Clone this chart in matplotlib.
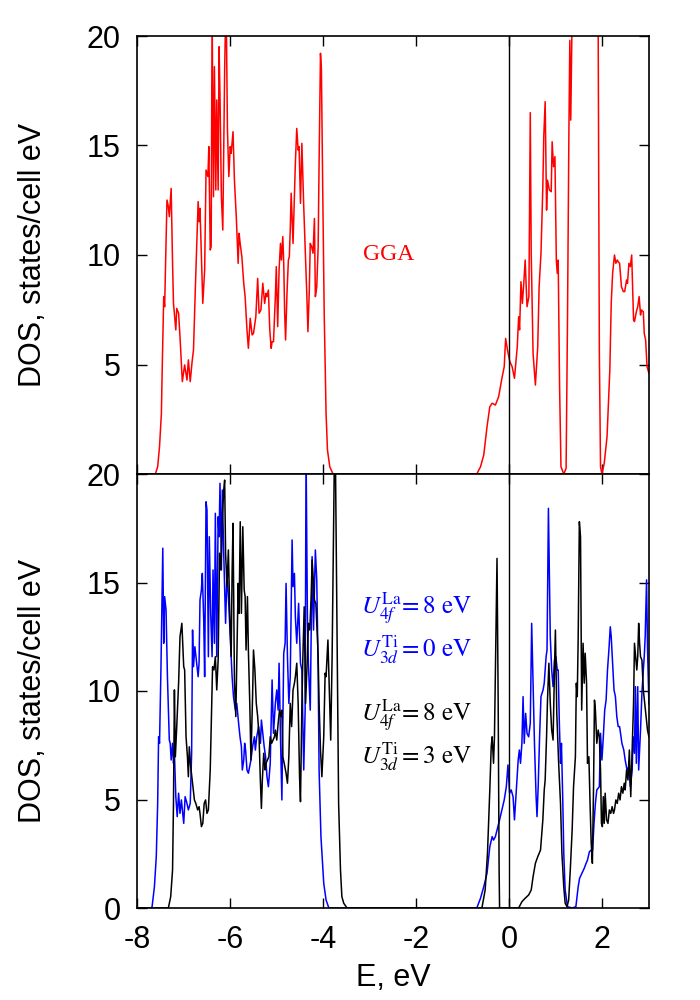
import matplotlib
matplotlib.use("Agg")
import matplotlib.pyplot as plt

plt.rcParams['font.family'] = ['Liberation Sans', 'DejaVu Sans']
plt.rcParams['mathtext.fontset'] = 'stix'
plt.rcParams['axes.unicode_minus'] = False

# GGA (top panel, red)
gga_e = [-8.0, -7.61, -7.56, -7.52, -7.48, -7.46, -7.43, -7.41, -7.36, -7.33, -7.31, -7.27, -7.24,
         -7.22, -7.17, -7.15, -7.11, -7.08, -7.03, -6.98, -6.93, -6.90, -6.86, -6.82, -6.79, -6.74,
         -6.69, -6.67, -6.65, -6.59, -6.55, -6.52, -6.48, -6.46, -6.43, -6.41, -6.39, -6.36, -6.34,
         -6.31, -6.29, -6.26, -6.24, -6.22, -6.19, -6.16, -6.12, -6.09, -6.06, -6.03, -6.00, -5.98,
         -5.94, -5.91, -5.87, -5.83, -5.81, -5.785, -5.75, -5.71, -5.68, -5.64, -5.61, -5.57, -5.53,
         -5.50, -5.45, -5.41, -5.38, -5.34, -5.30, -5.26, -5.23, -5.21, -5.18, -5.15, -5.12, -5.10,
         -5.07, -5.03, -5.01, -4.98, -4.95, -4.92, -4.90, -4.87, -4.85, -4.83, -4.81, -4.78, -4.75,
         -4.73, -4.71, -4.69, -4.65, -4.62, -4.60, -4.57, -4.54, -4.52, -4.49, -4.46, -4.42, -4.39,
         -4.35, -4.33, -4.30, -4.28, -4.25, -4.22, -4.19, -4.17, -4.14, -4.11, -4.09, -4.06, -4.04,
         -4.01, -3.98, -3.94, -3.91, -3.86, -3.79,
         -0.70, -0.62, -0.55, -0.48, -0.42, -0.37, -0.30, -0.23, -0.16, -0.11, -0.08, -0.04, 0.01,
         0.06, 0.11, 0.17, 0.20, 0.22, 0.25, 0.28, 0.31, 0.34, 0.38, 0.42, 0.45, 0.47, 0.51, 0.56,
         0.61, 0.64, 0.68, 0.72, 0.74, 0.77, 0.80, 0.82, 0.86, 0.90, 0.92, 0.95, 0.98, 1.01, 1.03,
         1.05, 1.08, 1.11, 1.17, 1.22, 1.25, 1.28, 1.30, 1.32, 1.35, 1.45, 1.80, 1.91, 1.935, 1.96,
         1.99, 2.04, 2.10, 2.16, 2.19, 2.22, 2.26, 2.29, 2.32, 2.34, 2.37, 2.41, 2.45, 2.48, 2.52,
         2.54, 2.57, 2.60, 2.63, 2.67, 2.69, 2.73, 2.76, 2.79, 2.82, 2.84, 2.88, 2.90, 2.93, 2.96, 3.0]
gga_dos = [0, 0, 0.33, 1.25, 2.77, 5.05, 8.10, 7.64, 12.51, 12.21, 11.75, 13.04, 9.62,
           7.79, 6.58, 7.56, 7.34, 6.27, 4.22, 4.98, 4.29, 5.21, 4.22, 5.13, 5.66, 9.16,
           12.44, 11.52, 12.13, 7.79, 9.32, 13.88, 13.58, 14.95, 10.23, 10.38, 21.0, 12.66, 18.6,
           12.97, 17.08, 12.97, 19.51, 17.23, 12.66, 11.14, 18.45, 22.0, 15.71, 13.58, 14.95, 14.64,
           15.63, 13.42, 11.75, 9.62, 10.99, 10.5, 9.92, 8.71, 8.10, 6.58, 5.74, 7.11, 6.35,
           6.42, 7.18, 8.93, 7.34, 7.49, 8.71, 7.79, 8.25, 8.10, 8.40, 6.58, 5.74, 6.04,
           6.04, 8.10, 9.47, 6.73, 9.32, 10.53, 9.77, 10.84, 9.62, 7.34, 6.12, 8.25, 9.77,
           9.92, 11.14, 12.82, 10.53, 12.66, 14.19, 15.78, 14.79, 14.95, 12.36, 15.10, 12.21, 10.38,
           7.95, 6.50, 8.40, 10.53, 10.38, 10.08, 11.67, 8.10, 8.55, 10.38, 14.19, 19.21, 18.45,
           12.66, 7.34, 2.77, 1.10, 0.33, 0,
           0, 0.33, 0.87, 2.16, 3.07, 3.23, 3.15, 3.53, 4.37, 4.90, 6.19, 5.66, 5.13,
           4.90, 4.37, 5.81, 7.18, 6.58, 8.78, 7.79, 8.71, 9.77, 7.64, 8.10, 16.5, 10.08, 5.51, 4.06,
           5.81, 8.55, 10.08, 13.12, 15.40, 17.0, 12.05, 13.42, 12.97, 12.89, 15.17, 14.03, 14.49, 9.77, 9.16,
           9.77, 3.99, 0.33, 0, 0.26, 7.03, 15.56, 19.8, 16.16, 21.0, 30.0, 30.0, 20.1, 5.5, 0.33,
           0, 0.49, 1.70, 4.75, 7.79, 9.16, 10.0, 9.62, 9.77, 9.69, 9.62, 8.55, 8.33, 8.33, 8.86,
           8.71, 9.62, 9.47, 10.0, 7.03, 6.96, 7.41, 7.64, 8.10, 7.26, 7.49, 7.41, 6.42, 6.12, 4.90, 4.6]

# U(La 4f) = 8 eV, U(Ti 3d) = 0 eV (bottom panel, blue)
u0_e = [-8.0, -7.70, -7.68, -7.63, -7.59, -7.56, -7.54, -7.52, -7.49, -7.45, -7.43, -7.41, -7.38, -7.35,
        -7.31, -7.29, -7.27, -7.24, -7.22, -7.20, -7.17, -7.14, -7.11, -7.08, -7.05, -7.02, -7.00,
        -6.97, -6.93, -6.90, -6.86, -6.83, -6.81, -6.79, -6.76, -6.73, -6.69, -6.67, -6.65, -6.62,
        -6.60, -6.57, -6.55, -6.52, -6.50, -6.47, -6.45, -6.42, -6.39, -6.37, -6.34, -6.32, -6.29,
        -6.26, -6.24, -6.22, -6.19, -6.17, -6.14, -6.10, -6.07, -6.04, -6.00, -5.96, -5.93, -5.89,
        -5.86, -5.82, -5.79, -5.76, -5.74, -5.71, -5.69, -5.67, -5.64, -5.61, -5.555, -5.52, -5.48,
        -5.46, -5.43, -5.39, -5.35, -5.33, -5.30, -5.27, -5.24, -5.21, -5.18, -5.14, -5.10, -5.07,
        -5.03, -5.00, -4.97, -4.95, -4.92, -4.89, -4.85, -4.82, -4.80, -4.77, -4.74, -4.71, -4.67,
        -4.65, -4.62, -4.60, -4.57, -4.53, -4.49, -4.46, -4.42, -4.39, -4.37, -4.34, -4.32, -4.28,
        -4.24, -4.21, -4.17, -4.14, -4.11, -4.09, -4.05, -3.99, -3.94, -3.88,
        -0.70, -0.62, -0.55, -0.48, -0.42, -0.37, -0.34, -0.30, -0.265, -0.21, -0.16, -0.11, -0.065,
        -0.03, 0.005, 0.04, 0.08, 0.11, 0.15, 0.19, 0.215, 0.24, 0.27, 0.295, 0.32, 0.35, 0.38,
        0.415, 0.45, 0.48, 0.51, 0.54, 0.575, 0.595, 0.62, 0.65, 0.68, 0.725, 0.75, 0.79, 0.81,
        0.84, 0.86, 0.88, 0.91, 0.94, 0.97, 1.00, 1.03, 1.05, 1.075, 1.10, 1.12, 1.15, 1.17, 1.20,
        1.25, 1.35, 1.43, 1.48, 1.51, 1.56, 1.61, 1.65, 1.68, 1.72, 1.76, 1.79, 1.82, 1.85, 1.88,
        1.91, 1.935, 1.96, 1.99, 2.02, 2.05, 2.08, 2.11, 2.14, 2.17, 2.19, 2.22, 2.25, 2.28, 2.31,
        2.34, 2.37, 2.39, 2.42, 2.46, 2.49, 2.53, 2.57, 2.60, 2.64, 2.66, 2.69, 2.71, 2.73, 2.76,
        2.78, 2.82, 2.85, 2.88, 2.90, 2.92, 2.95, 2.97, 3.0]
u0_dos = [0, 0, 0.06, 0.98, 2.36, 4.82, 7.89, 7.59, 10.97, 16.58, 12.20, 14.35, 13.73, 10.66,
          7.74, 7.59, 6.82, 7.59, 6.67, 7.13, 5.13, 4.21, 5.29, 4.36, 4.98, 4.36, 3.90,
          5.13, 4.82, 4.52, 4.82, 7.13, 12.81, 11.12, 12.04, 11.43, 10.66, 11.28, 14.19, 14.65,
          15.42, 13.27, 10.66, 18.72, 18.34, 11.58, 17.11, 13.58, 11.58, 15.58, 12.20, 18.19, 11.58,
          18.03, 17.11, 19.57, 15.58, 19.26, 16.35, 13.12, 15.42, 14.35, 12.50, 10.66, 9.74, 9.12,
          9.43, 8.51, 7.89, 7.43, 6.36, 6.82, 7.59, 7.28, 6.36, 6.21, 6.82, 7.43, 7.89,
          7.28, 7.89, 8.36, 7.59, 8.66, 8.05, 7.43, 6.97, 6.05, 5.59, 6.67, 10.51, 8.05,
          9.43, 10.05, 9.12, 11.28, 7.89, 4.98, 11.74, 12.20, 14.96, 11.58, 9.43, 10.66, 16.96,
          14.81, 15.42, 13.42, 12.20, 14.04, 11.28, 10.97, 6.36, 9.12, 21.0, 13.12, 11.28, 9.12,
          16.19, 12.81, 16.50, 15.12, 10.97, 6.36, 3.29, 1.14, 0.37, 0,
          0, 0.45, 0.98, 1.60, 2.82, 3.29, 3.13, 3.29, 3.59, 4.06, 4.52, 4.98, 5.59,
          6.59, 5.29, 5.44, 5.13, 4.06, 5.44, 6.82, 7.28, 6.67, 7.59, 9.74, 7.59, 8.97, 8.05,
          7.89, 8.51, 13.12, 10.36, 7.59, 5.13, 4.21, 5.59, 7.89, 9.74, 10.05, 10.36, 11.58, 11.89,
          18.42, 15.58, 12.50, 10.97, 10.20, 11.43, 11.58, 10.97, 10.97, 8.51, 6.67, 7.59, 4.82, 2.52, 0.83,
          0.06, 0, 0.06, 0.98, 1.37, 1.60, 1.83, 2.06, 2.21, 2.59, 2.67, 2.67, 3.90, 4.82, 5.44,
          5.52, 5.59, 8.05, 6.82, 7.89, 9.12, 9.58, 10.97, 11.89, 12.96, 12.50, 11.28, 10.05, 9.74, 8.82,
          8.36, 8.36, 8.05, 7.59, 7.28, 6.82, 6.36, 6.51, 5.59, 6.36, 7.89, 7.13, 10.20, 6.67, 10.20,
          6.36, 8.20, 9.89, 10.97, 11.58, 12.50, 15.12, 12.0, 9.4]

# U(La 4f) = 8 eV, U(Ti 3d) = 3 eV (bottom panel, black)
u3_e = [-8.0, -7.33, -7.28, -7.24, -7.22, -7.20, -7.18, -7.15, -7.11, -7.08, -7.04, -7.00, -6.98,
        -6.95, -6.92, -6.90, -6.88, -6.85, -6.81, -6.77, -6.74, -6.70, -6.67, -6.65, -6.62, -6.59,
        -6.56, -6.53, -6.50, -6.47, -6.43, -6.40, -6.38, -6.35, -6.32, -6.29, -6.26, -6.23, -6.20,
        -6.17, -6.14, -6.12, -6.10, -6.07, -6.04, -6.01, -5.98, -5.96, -5.94, -5.91, -5.88, -5.86,
        -5.83, -5.81, -5.785, -5.76, -5.73, -5.70, -5.68, -5.66, -5.63, -5.61, -5.58, -5.555, -5.52,
        -5.50, -5.47, -5.44, -5.41, -5.38, -5.355, -5.33, -5.31, -5.28, -5.25, -5.23, -5.20, -5.17,
        -5.14, -5.11, -5.08, -5.05, -5.03, -5.00, -4.97, -4.94, -4.91, -4.89, -4.87, -4.84, -4.80,
        -4.77, -4.74, -4.71, -4.68, -4.65, -4.62, -4.60, -4.57, -4.54, -4.51, -4.49, -4.46, -4.44,
        -4.41, -4.38, -4.35, -4.32, -4.29, -4.26, -4.24, -4.215, -4.19, -4.16, -4.13, -4.11, -4.09,
        -4.06, -4.03, -3.99, -3.96, -3.94, -3.90, -3.87, -3.84, -3.81, -3.78, -3.76, -3.74, -3.71,
        -3.67, -3.63, -3.60, -3.56, -3.49,
        -0.59, -0.52, -0.47, -0.42, -0.39, -0.37, -0.34, -0.32, -0.29, -0.265, -0.24, -0.22, -0.21,
        0.20, 0.27, 0.34, 0.415, 0.47, 0.51, 0.56, 0.61, 0.67, 0.72, 0.75, 0.77, 0.80, 0.82, 0.85,
        0.88, 0.91, 0.94, 0.97, 0.99, 1.02, 1.06, 1.10, 1.13, 1.17, 1.20, 1.24, 1.275, 1.31, 1.35,
        1.38, 1.42, 1.44, 1.46, 1.48, 1.505, 1.53, 1.555, 1.585, 1.61, 1.63, 1.66, 1.68, 1.71,
        1.735, 1.76, 1.785, 1.81, 1.83, 1.85, 1.88, 1.91, 1.935, 1.96, 1.98, 2.00, 2.02, 2.04,
        2.06, 2.09, 2.12, 2.15, 2.18, 2.21, 2.24, 2.26, 2.29, 2.32, 2.35, 2.38, 2.41, 2.44, 2.47,
        2.49, 2.52, 2.55, 2.58, 2.61, 2.64, 2.67, 2.69, 2.72, 2.74, 2.76, 2.78, 2.80, 2.82, 2.85,
        2.88, 2.91, 2.94, 2.97, 3.0]
u3_dos = [0, 0, 0.52, 1.75, 4.82, 10.05, 6.97, 8.36, 10.36, 12.50, 13.12, 11.12, 10.97,
          7.89, 6.97, 6.05, 7.43, 6.51, 5.75, 4.98, 4.82, 4.52, 4.67, 4.36, 3.75, 3.90,
          4.82, 4.98, 4.36, 4.52, 6.36, 9.12, 11.12, 10.97, 11.58, 10.05, 11.43, 16.35, 15.58,
          18.03, 19.26, 19.72, 16.35, 14.81, 16.50, 13.58, 11.58, 15.42, 17.73, 10.51, 8.82, 11.28,
          14.96, 13.58, 17.8, 13.58, 17.57, 14.65, 14.35, 11.89, 14.35, 11.89, 9.43, 6.82, 9.74,
          11.89, 10.97, 9.43, 8.82, 7.89, 6.05, 4.59, 5.90, 7.13, 6.36, 6.67, 6.82, 6.97,
          7.89, 7.59, 7.74, 7.89, 8.20, 7.74, 8.51, 9.12, 8.82, 9.12, 6.97, 6.67, 6.21,
          5.75, 6.97, 9.43, 8.36, 10.05, 10.36, 10.66, 11.28, 9.43, 6.05, 4.90, 9.28, 11.43,
          13.88, 9.43, 11.12, 13.12, 12.81, 14.35, 16.04, 15.12, 14.19, 14.04, 12.66, 11.58, 9.43,
          7.28, 6.05, 7.89, 10.82, 10.66, 12.35, 10.05, 7.74, 11.58, 17.11, 21.0, 21.0, 14.04,
          4.82, 1.75, 0.52, 0.22, 0,
          0, 0.83, 2.52, 5.44, 7.43, 7.89, 6.67, 7.89, 12.50, 16.11, 9.43, 1.75, 0,
          0, 0.29, 0.45, 0.60, 0.83, 1.44, 2.06, 2.36, 2.67, 4.06, 5.44, 5.90, 7.89, 9.58, 11.28,
          9.43, 8.20, 7.74, 10.97, 12.81, 8.97, 6.67, 4.82, 2.52, 0.98, 0.22, 0.06, 0.37, 1.75, 3.59,
          5.59, 6.97, 10.36, 9.74, 12.50, 17.80, 17.11, 9.12, 12.20, 10.36, 11.74, 10.36, 6.67, 6.97,
          4.82, 2.98, 2.06, 5.59, 9.58, 9.12, 7.59, 8.20, 7.89, 6.36, 3.90, 3.75, 5.13, 3.90,
          5.29, 4.06, 3.90, 4.52, 4.36, 4.67, 4.36, 4.52, 4.98, 4.82, 5.29, 4.98, 5.59, 5.29, 5.75,
          5.44, 6.36, 5.90, 7.28, 5.13, 7.28, 9.43, 12.20, 11.43, 10.97, 11.58, 13.12, 12.20, 11.58, 11.43,
          10.05, 9.43, 8.82, 8.20, 7.89]

xticks = [-8, -6, -4, -2, 0, 2]
top_yticks = [5, 10, 15, 20]
bottom_yticks = [0, 5, 10, 15, 20]

fig = plt.figure(figsize=(7, 10), dpi=100)
ax1 = fig.add_axes([0.196, 0.526, 0.731, 0.438])
ax2 = fig.add_axes([0.196, 0.092, 0.731, 0.434])

ax1.plot(gga_e, gga_dos, color='#ff0000', lw=1.1)
ax2.plot(u0_e, u0_dos, color='#0000ff', lw=1.1)
ax2.plot(u3_e, u3_dos, color='black', lw=1.1)

for ax in (ax1, ax2):
    ax.axvline(0, color='black', lw=1.0)
    ax.set_xlim(-8, 3)
    ax.set_ylim(0, 20)
    ax.set_xticks(xticks)
    ax.tick_params(direction='in', length=7, width=1.0, top=True, right=True,
                   labelsize=22, pad=12)
    for s in ax.spines.values():
        s.set_linewidth(1.2)
    ax.set_ylabel('DOS, states/cell eV', fontsize=22, labelpad=28)

ax1.set_yticks(top_yticks)
ax1.tick_params(labelbottom=False)
ax2.set_yticks(bottom_yticks)
ax2.set_xlabel('E, eV', fontsize=22, labelpad=6)

serif = ['Liberation Serif', 'DejaVu Serif']
ax1.text(-2.6, 10, 'GGA', color='#ff0000', fontsize=17, family=serif, ha='center', va='center')

ax2.text(-3.18, 13.8, r'$U^{\mathrm{La}}_{\mathit{4f}}\!=8\ \mathrm{eV}$', color='#0000ff',
         fontsize=18, va='center')
ax2.text(-3.18, 11.9, r'$U^{\mathrm{Ti}}_{\mathit{3d}}=0\ \mathrm{eV}$', color='#0000ff',
         fontsize=18, va='center')
ax2.text(-3.18, 8.85, r'$U^{\mathrm{La}}_{\mathit{4f}}\!=8\ \mathrm{eV}$', color='black',
         fontsize=18, va='center')
ax2.text(-3.18, 6.95, r'$U^{\mathrm{Ti}}_{\mathit{3d}}=3\ \mathrm{eV}$', color='black',
         fontsize=18, va='center')

fig.savefig('out.png', dpi=100)
